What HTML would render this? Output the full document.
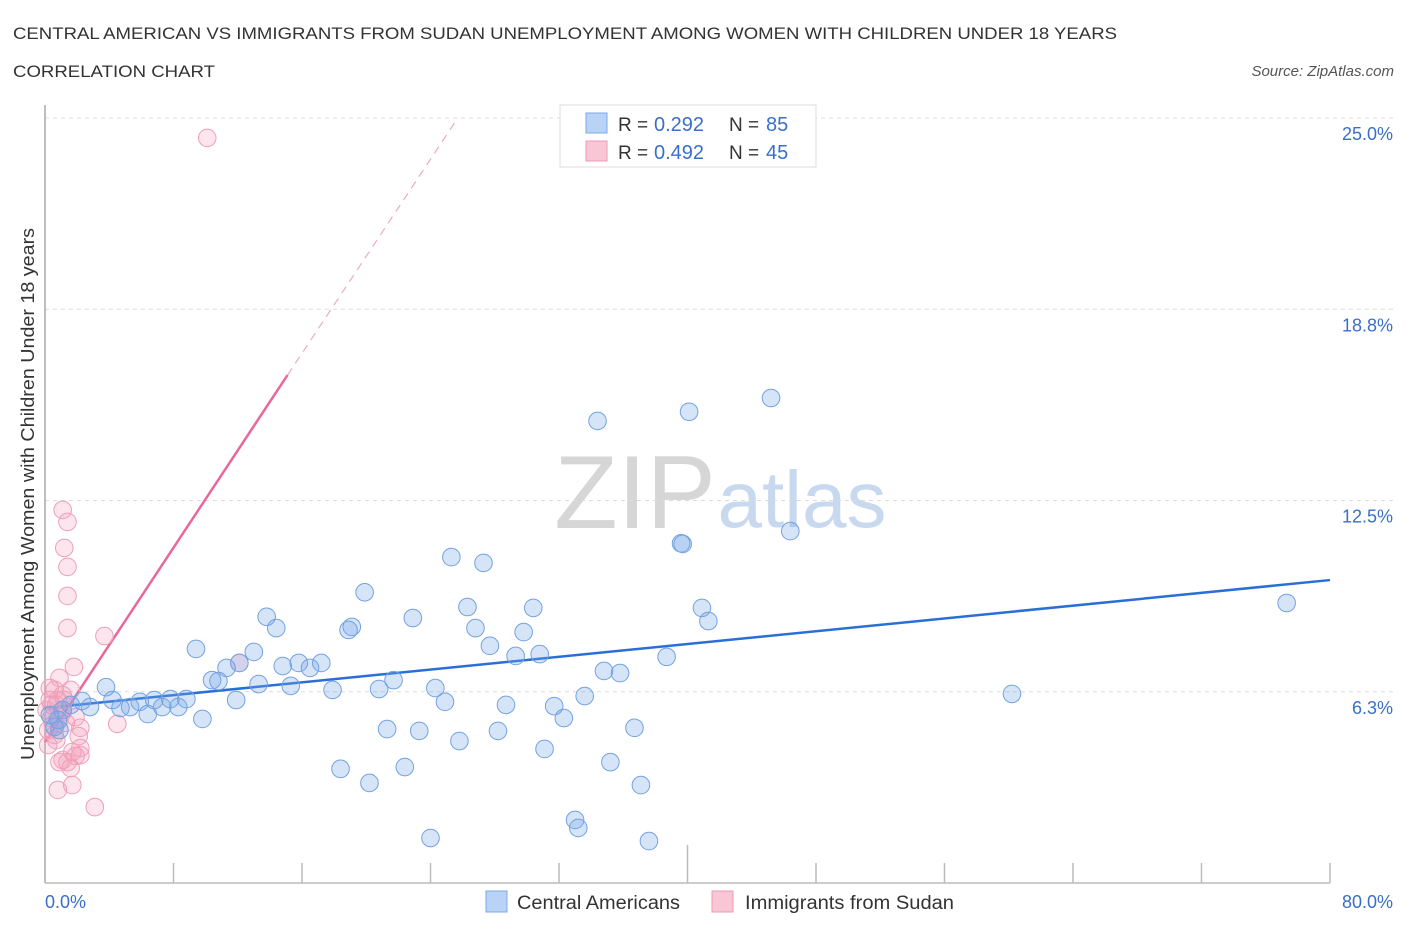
<!DOCTYPE html>
<html><head><meta charset="utf-8"><style>
body{margin:0;background:#fff;font-family:"Liberation Sans",sans-serif}
svg text{font-family:"Liberation Sans",sans-serif}
</style></head><body>
<svg id="chart" width="1406" height="930" viewBox="0 0 1406 930" xmlns="http://www.w3.org/2000/svg">
<text x="13" y="39" font-size="17" fill="#333" textLength="1104" lengthAdjust="spacingAndGlyphs">CENTRAL AMERICAN VS IMMIGRANTS FROM SUDAN UNEMPLOYMENT AMONG WOMEN WITH CHILDREN UNDER 18 YEARS</text>
<text x="13" y="77" font-size="17" fill="#333" textLength="202" lengthAdjust="spacingAndGlyphs">CORRELATION CHART</text>
<text x="1394" y="76" font-size="15" fill="#555" font-style="italic" text-anchor="end">Source: ZipAtlas.com</text>
<g>
<text x="635" y="528" font-size="104" fill="#d6d6d6" font-family="Liberation Serif" text-anchor="middle">ZIP</text>
<text x="802" y="527" font-size="80" fill="#c8d8ee" text-anchor="middle">atlas</text>
</g>
<g id="grid"></g>
<g id="axes"></g>
<g id="lines"></g>
<g id="points"></g>
<text transform="translate(34,494) rotate(-90)" font-size="18" fill="#333" text-anchor="middle" textLength="532" lengthAdjust="spacingAndGlyphs">Unemployment Among Women with Children Under 18 years</text>
<g>
<rect x="560" y="105" width="256" height="62" fill="#fff" stroke="#ddd"/>
<rect x="586" y="113" width="21" height="20" fill="#b8d3f5" stroke="#7fa9e6"/>
<rect x="586" y="141" width="21" height="20" fill="#f9c6d5" stroke="#ec9bb4"/>
<text x="618" y="131" font-size="19" fill="#333">R =</text>
<text x="654" y="131" font-size="20" fill="#3a6fc9">0.292</text>
<text x="729" y="131" font-size="19" fill="#333">N =</text>
<text x="766" y="131" font-size="20" fill="#3a6fc9">85</text>
<text x="618" y="159" font-size="19" fill="#333">R =</text>
<text x="654" y="159" font-size="20" fill="#3a6fc9">0.492</text>
<text x="729" y="159" font-size="19" fill="#333">N =</text>
<text x="766" y="159" font-size="20" fill="#3a6fc9">45</text>
</g>
<g>
<rect x="486" y="891" width="21" height="21" fill="#b8d3f5" stroke="#7fa9e6"/>
<text x="517" y="909" font-size="19" fill="#333" textLength="163" lengthAdjust="spacingAndGlyphs">Central Americans</text>
<rect x="712" y="891" width="21" height="21" fill="#f9c6d5" stroke="#ec9bb4"/>
<text x="745" y="909" font-size="19" fill="#333" textLength="209" lengthAdjust="spacingAndGlyphs">Immigrants from Sudan</text>
</g>
</svg>
<script>
const yTicks=[6.25,12.5,18.75,25];
const yTickLabels=["6.3%","12.5%","18.8%","25.0%"];
const xTickLabels=["0.0%","80.0%"];
const blueX=[34.4,40.1,45.2,39.6,39.7,46.4,77.3,60.2,25.3,27.3,19.9,13.8,14.4,19.1,18.9,22.9,26.3,26.8,30.4,29.8,27.7,29.3,30.8,40.9,41.3,38.7,34.8,35.8,9.4,13.0,12.1,11.3,10.4,10.8,14.8,15.8,16.5,17.2,13.3,15.3,17.9,20.8,21.7,24.3,24.9,28.7,31.7,32.3,33.6,11.9,9.8,21.3,23.3,25.8,28.2,31.1,36.7,18.4,20.2,22.4,35.2,37.1,33.0,33.2,24.0,37.6,3.8,2.3,4.2,5.3,5.9,6.4,6.8,7.3,7.8,8.3,8.8,4.7,2.8,1.6,1.1,0.8,0.6,0.9,0.3];
const blueY=[15.1,15.4,15.85,11.1,11.08,11.5,9.15,6.18,10.65,10.46,9.5,8.7,8.33,8.37,8.27,8.66,9.02,8.33,8.99,8.2,7.75,7.42,7.48,8.99,8.56,7.39,6.93,6.86,7.65,7.55,7.19,7.03,6.63,6.6,7.09,7.19,7.03,7.19,6.5,6.44,6.31,6.34,6.63,6.37,5.92,5.82,5.78,5.39,6.11,5.98,5.36,5.03,4.97,4.64,4.97,4.38,5.07,3.73,3.27,3.79,3.95,3.2,2.06,1.8,1.47,1.37,6.4,5.95,5.98,5.75,5.92,5.52,5.98,5.75,6.01,5.75,6.01,5.72,5.75,5.82,5.65,5.33,5.1,5.0,5.49];
const pinkX=[10.1,1.1,1.4,1.2,1.4,1.4,1.4,3.7,1.8,12.1,0.9,0.6,1.1,0.3,0.7,1.1,0.4,1.9,4.5,2.2,0.2,0.6,2.1,2.2,1.7,2.2,0.9,1.4,1.6,0.8,1.7,3.1,0.3,1.2,0.1,0.5,1.3,1.9,1.1,0.7,0.2,0.8,1.6,0.9,0.4];
const pinkY=[24.35,12.19,11.8,10.95,10.33,9.38,8.33,8.07,7.06,7.19,6.7,6.31,6.14,5.98,5.82,5.59,5.39,5.42,5.2,5.07,5.0,4.84,4.8,4.41,4.28,4.18,3.95,3.95,3.76,3.04,3.2,2.48,6.37,5.98,5.65,5.16,5.23,4.15,4.02,4.67,4.51,5.98,6.31,5.33,5.82];
const blueTrend=[[0,5.72],[80,9.9]];
const pinkTrendSolid=[[0,4.6],[15.1,16.6]];
const pinkTrendDashed=[[15.1,16.6],[25.7,25.0]];

const NS="http://www.w3.org/2000/svg";
const X0=45,X1=1330,Y0=883,Y1=118;
const sx=v=>X0+(X1-X0)*v/80;
const sy=v=>Y0-(Y0-Y1)*v/25;
function mk(tag,attrs,parent){const e=document.createElementNS(NS,tag);for(const k in attrs)e.setAttribute(k,attrs[k]);document.getElementById(parent).appendChild(e);return e;}

yTicks.forEach((t,i)=>{
 const g=mk('line',{x1:X0,x2:1394,y1:sy(t),y2:sy(t),stroke:'#dcdcdc','stroke-dasharray':'4,4'},'grid');
 
 
 const l=mk('text',{x:1393,y:sy(t)+22,'font-size':18,fill:'#3a6fc9','text-anchor':'end'},'grid');
 l.textContent=yTickLabels[i];
 
 
});
const ya=mk('line',{x1:X0,x2:X0,y1:105,y2:Y0,stroke:'#aaa','stroke-width':1.5},'axes');


const xa=mk('line',{x1:X0,x2:X1,y1:Y0,y2:Y0,stroke:'#bbb','stroke-width':1.5},'axes');


for(let i=1;i<=10;i++){
 const v=i*8;
 const t=mk('line',{x1:sx(v),x2:sx(v),y1:i==5?845:863,y2:Y0,stroke:'#bbb','stroke-width':1.5},'axes');
 
 
}
[[0,'start',45],[80,'end',1393]].forEach((d,i)=>{
 const l=mk('text',{x:d[2],y:908,'font-size':18,fill:'#3a6fc9','text-anchor':d[1]},'axes');
 l.textContent=xTickLabels[i];
 
 
});

function pts(xs,ys,fill,stroke,name){
 xs.forEach((x,i)=>{
  const c=mk('circle',{cx:sx(x),cy:sy(ys[i]),r:8.8,fill:fill,stroke:stroke,'stroke-width':1},'points');
  
  
 });
}
pts(pinkX,pinkY,'rgba(244,160,188,0.28)','#ee9fba','sudan-point');
pts(blueX,blueY,'rgba(120,165,232,0.3)','#73a2e2','central-american-point');

const bl=mk('line',{x1:sx(blueTrend[0][0]),y1:sy(blueTrend[0][1]),x2:sx(blueTrend[1][0]),y2:sy(blueTrend[1][1]),stroke:'#2a6fd6','stroke-width':2.5},'lines');


const pl=mk('line',{x1:sx(pinkTrendSolid[0][0]),y1:sy(pinkTrendSolid[0][1]),x2:sx(pinkTrendSolid[1][0]),y2:sy(pinkTrendSolid[1][1]),stroke:'#e8689a','stroke-width':2.5},'lines');


const pd=mk('line',{x1:sx(pinkTrendDashed[0][0]),y1:sy(pinkTrendDashed[0][1]),x2:sx(pinkTrendDashed[1][0]),y2:sy(pinkTrendDashed[1][1]),stroke:'#eeaac0','stroke-width':1.2,'stroke-dasharray':'8,6'},'lines');


</script>
</body></html>
